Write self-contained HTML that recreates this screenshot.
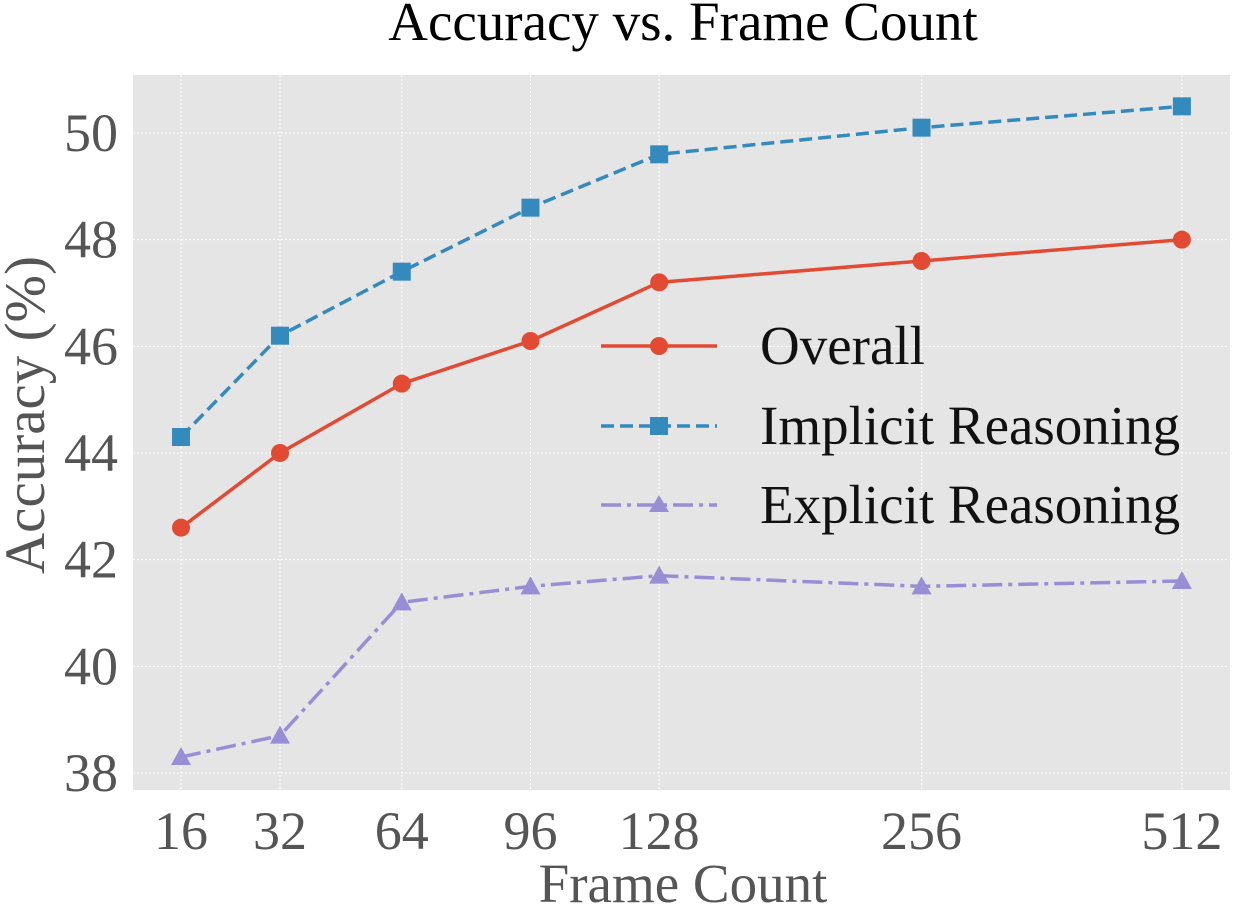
<!DOCTYPE html>
<html><head><meta charset="utf-8"><style>
body{margin:0;background:#fff;}
svg{display:block;font-family:"Liberation Serif",serif;}
</style></head><body>
<svg id="chart" width="1235" height="905">
<rect x="133" y="75" width="1097" height="715" fill="#e5e5e5"/>
<g id="grid"></g><g id="series"></g><g id="ticks"></g>
<text x="683" y="40" text-anchor="middle" font-size="55" fill="#000">Accuracy vs. Frame Count</text>
<text x="683" y="902" text-anchor="middle" font-size="55" fill="#555">Frame Count</text>
<text transform="translate(44,415) rotate(-90)" text-anchor="middle" font-size="57" fill="#555">Accuracy (%)</text>
<g>
 <g>
  <line x1="601" y1="346" x2="717" y2="346" stroke="#E24A33" stroke-width="3.5"/>
  <circle cx="659" cy="346" r="9" fill="#E24A33"/>
  <text x="760" y="364" font-size="55" fill="#111">Overall</text></g>
 <g>
  <line x1="601" y1="426" x2="717" y2="426" stroke="#348ABD" stroke-width="3.5" stroke-dasharray="13,6"/>
  <rect x="650" y="417" width="18" height="18" fill="#348ABD"/>
  <text x="760" y="444" font-size="55" fill="#111">Implicit Reasoning</text></g>
 <g>
  <line x1="601" y1="505" x2="717" y2="505" stroke="#988ED5" stroke-width="3.5" stroke-dasharray="20,6,4,6"/>
  <polygon points="659,495 669,512 649,512" fill="#988ED5"/>
  <text x="760" y="523" font-size="55" fill="#111">Explicit Reasoning</text></g>
</g>
</svg>
<script>
const categories=["16","32","64","96","128","256","512"];
const xUnits=[0,1,2.23,3.53,4.83,7.48,10.11];
const overall=[42.6,44.0,45.3,46.1,47.2,47.6,48.0];
const implicit=[44.3,46.2,47.4,48.6,49.6,50.1,50.5];
const explicit=[38.3,38.7,41.2,41.5,41.7,41.5,41.6];
const yTicks=[38,40,42,44,46,48,50];
const NS="http://www.w3.org/2000/svg";
function xs(u){return 181+u*99;}
function ys(v){return 133+(50-v)*640/12;}
function mk(tag,attrs,parent){const e=document.createElementNS(NS,tag);for(const k in attrs)e.setAttribute(k,attrs[k]);document.getElementById(parent).appendChild(e);return e;}
yTicks.forEach(t=>{
 const g=mk('line',{x1:133,x2:1230,y1:ys(t),y2:ys(t),stroke:'#fff','stroke-width':1,'stroke-dasharray':'2,2'},'grid');
 
 
 const l=mk('text',{x:118,y:ys(t)+18,'text-anchor':'end','font-size':54,fill:'#555'},'ticks');
 l.textContent=t;
 
 
});
categories.forEach((c,i)=>{
 const g=mk('line',{x1:xs(xUnits[i]),x2:xs(xUnits[i]),y1:75,y2:790,stroke:'#fff','stroke-width':1,'stroke-dasharray':'2,2'},'grid');
 
 
 const l=mk('text',{x:xs(xUnits[i]),y:849,'text-anchor':'middle','font-size':54,fill:'#555'},'ticks');
 l.textContent=c;
 
 
});
function series(vals,color,dash,marker,name){
 const pts=vals.map((v,i)=>xs(xUnits[i])+','+ys(v)).join(' ');
 const p=mk('polyline',{points:pts,fill:'none',stroke:color,'stroke-width':3.5,'stroke-dasharray':dash},'series');
 
 
 vals.forEach((v,i)=>{
  const x=xs(xUnits[i]),y=ys(v);let m;
  if(marker==='circle')m=mk('circle',{cx:x,cy:y,r:9,fill:color},'series');
  else if(marker==='square')m=mk('rect',{x:x-9,y:y-9,width:18,height:18,fill:color},'series');
  else m=mk('polygon',{points:`${x},${y-10} ${x+10},${y+8} ${x-10},${y+8}`,fill:color},'series');
  
  
 });
}
series(overall,'#E24A33','none','circle','overall');
series(implicit,'#348ABD','13,6','square','implicit');
series(explicit,'#988ED5','20,6,4,6','triangle','explicit');
</script>
</body></html>
